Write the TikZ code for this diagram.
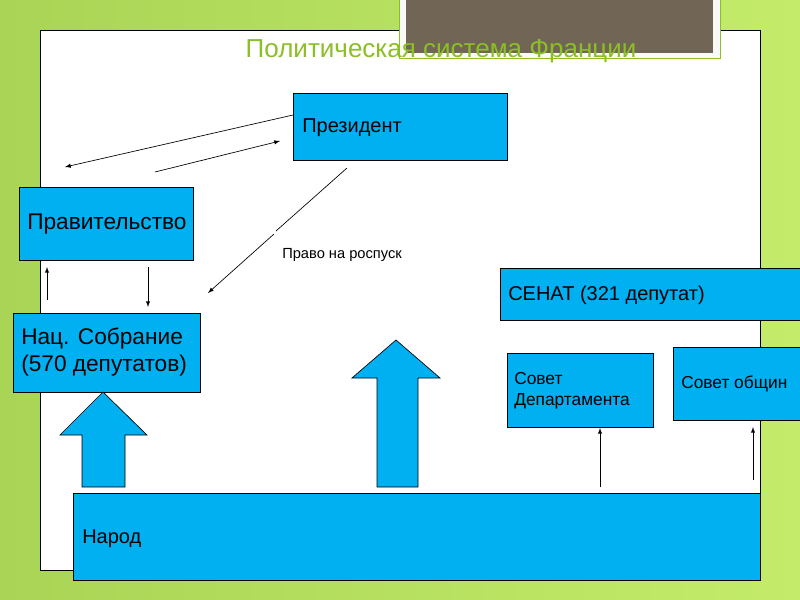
\documentclass[tikz,border=0pt]{standalone}
\usepackage{fontspec}
\setmainfont{Liberation Sans}
\definecolor{bx}{HTML}{00B0F0}
\definecolor{ttl}{HTML}{8CBF26}
\definecolor{brn}{HTML}{716656}
\definecolor{gL}{HTML}{A9D455}
\definecolor{gR}{HTML}{C4EC6A}
\begin{document}
\begin{tikzpicture}[x=0.75pt,y=-0.75pt,
  box/.style={draw=black,line width=0.5pt,fill=bx},
  lbl/.style={anchor=west,inner sep=0pt,font=\fontsize{15}{18}\selectfont},
  arr/.style={-latex,line width=0.5pt},
  blk/.style={draw=black,line width=0.5pt,fill=bx}]
\useasboundingbox (0,0) rectangle (800,600);
\clip (0,0) rectangle (800,600);
\shade[left color=gL,right color=gR] (0,0) rectangle (800,600);
\draw[black,line width=0.5pt,fill=white] (40,30) rectangle (760,570);
\draw[ttl,line width=0.6pt,fill=white!95!gray] (399,-2) rectangle (720,58);
\fill[brn] (406,-2) rectangle (713,53);
\node[anchor=base,text=ttl,font=\fontsize{19.5}{22}\selectfont] (title) at (441,57) {Политическая система Франции};
% boxes
\draw[box] (293,93) rectangle (507,160);
\node[lbl] (pres) at (302,128) {Президент};
\draw[box] (19,187) rectangle (193,260);
\node[lbl,font=\fontsize{17}{20}\selectfont] (gov) at (27,224) {Правительство};
\draw[box] (13,313) rectangle (200,392);
\node[lbl,align=left,font=\fontsize{17}{20}\selectfont] (nat) at (21,352) {Нац. Собрание\\(570 депутатов)};
\draw[box] (500,268) rectangle (810,320);
\node[lbl] (sen) at (508,295) {СЕНАТ (321 депутат)};
\draw[box] (507,353) rectangle (653,427);
\node[lbl,align=left,font=\fontsize{13}{16}\selectfont] (dep) at (514,391) {Совет\\Департамента};
\draw[box] (673,347) rectangle (810,420);
\node[lbl,font=\fontsize{13}{16}\selectfont] (com) at (681,384) {Совет общин};
\draw[box] (73,493) rectangle (760,580);
\node[lbl] (nar) at (82,539) {Народ};
% block arrows
\draw[blk] (82,487) -- (82,435) -- (60,435) -- (103,392) -- (147,435) -- (125,435) -- (125,487) -- cycle;
\draw[blk] (377,487) -- (377,378) -- (352,378) -- (396,340) -- (440,378) -- (418,378) -- (418,487) -- cycle;
% line arrows
\coordinate (a1) at (293,115); \coordinate (a2) at (65,167);
\draw[arr] (a1) -- (a2);
\coordinate (b1) at (155,172); \coordinate (b2) at (280,141);
\draw[arr] (b1) -- (b2);
\coordinate (c1) at (347,168); \coordinate (cg) at (276,231); \coordinate (cg2) at (274,234); \coordinate (c2) at (208,293);
\draw[line width=0.5pt] (c1) -- (cg);
\draw[arr] (cg2) -- (c2);
\node[anchor=west,inner sep=0pt,font=\fontsize{11}{13}\selectfont] (rasp) at (282,255) {Право на роспуск};
\coordinate (d1) at (47,300); \coordinate (d2) at (47,267);
\draw[arr] (d1) -- (d2);
\coordinate (e1) at (148,267); \coordinate (e2) at (148,307);
\draw[arr] (e1) -- (e2);
\coordinate (f1) at (600,487); \coordinate (f2) at (600,428);
\draw[arr] (f1) -- (f2);
\coordinate (g1) at (753,480); \coordinate (g2) at (753,427);
\draw[arr] (g1) -- (g2);
\end{tikzpicture}
\end{document}
